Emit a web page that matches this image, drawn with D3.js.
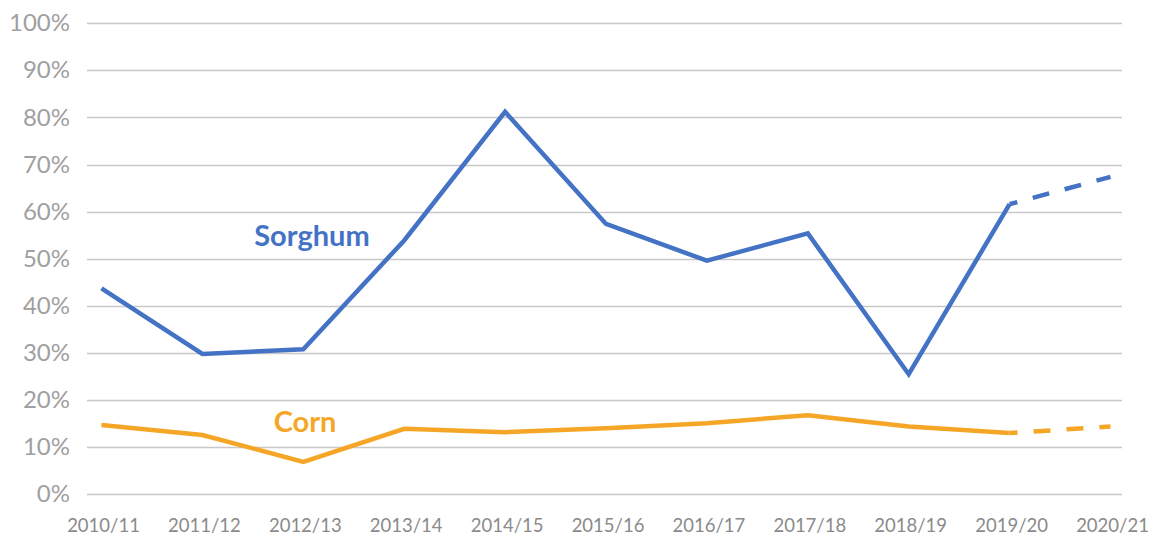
<!DOCTYPE html>
<html>
<head>
<meta charset="utf-8">
<script src="https://cdn.jsdelivr.net/npm/d3@7"></script>
<style>
  body { margin: 0; background: #fff; }
  text { font-family: Lato, "Open Sans", sans-serif; }
</style>
</head>
<body>
<script>
const years = ['2010/11', '2011/12', '2012/13', '2013/14', '2014/15', '2015/16',
    '2016/17', '2017/18', '2018/19', '2019/20', '2020/21']
const sorghum = [43.7, 29.8, 30.8, 53.9, 81.2, 57.4, 49.6, 55.4, 25.5, 61.6, 67.4]
const corn = [14.7, 12.6, 6.9, 13.9, 13.2, 14.0, 15.1, 16.8, 14.4, 13.0, 14.4]
const yTicks = [0, 10, 20, 30, 40, 50, 60, 70, 80, 90, 100]
// last point is a forecast, drawn dashed
const forecastFrom = 9

let width = 1150, height = 540

let svg = d3.select("body").append("svg")
    .attr("width", width)
    .attr("height", height)

let x = d3.scalePoint().domain(years).range([101.5, 1110.5])
let y = d3.scaleLinear().domain([0, 100]).range([494.3, 23.3])

// gridlines
svg.append("g")
    .selectAll('line')
    .data(yTicks).enter()
    .append('line')
    .attr("x1", 87)
    .attr("x2", 1122)
    .attr("y1", d => Math.round(y(d)) + 0.5)
    .attr("y2", d => Math.round(y(d)) + 0.5)
    .attr("stroke", "#c8c8c8")
    .attr("stroke-width", 1.3)

// y labels
svg.append("g")
    .selectAll('text')
    .data(yTicks).enter()
    .append('text')
    .attr('text-anchor', 'end')
    .attr('x', 70)
    .attr('y', d => y(d) + 8)
    .attr('fill', '#a0a0a0')
    .style('font-size', '24px')
    .text(d => d + '%')

// x labels
svg.append("g")
    .selectAll('text')
    .data(years).enter()
    .append('text')
    .attr('text-anchor', 'middle')
    .attr('x', d => x(d) + 2)
    .attr('y', 532)
    .attr('fill', '#8a8a8a')
    .style('font-size', '18.5px')
    .text(d => d)

const line = d3.line()
    .x(d => x(d.year))
    .y(d => y(d.value))

const series = [
    { name: 'Sorghum', values: sorghum, color: '#4472c4', lx: 312, ly: 246 },
    { name: 'Corn', values: corn, color: '#f6a626', lx: 305, ly: 432 }
]

series.map(s => {
    const pts = s.values.map((v, i) => ({ year: years[i], value: v }))
    svg.append('path')
        .attr("d", line(pts.slice(0, forecastFrom + 1)))
        .attr("fill", "none")
        .attr("stroke", s.color)
        .attr("stroke-width", 4.5)
    svg.append('path')
        .attr("d", line(pts.slice(forecastFrom)))
        .attr("fill", "none")
        .attr("stroke", s.color)
        .attr("stroke-width", 4.5)
        .attr("stroke-dasharray", "17,16")
        .attr("stroke-dashoffset", 9)
    svg.append('text')
        .attr('text-anchor', 'middle')
        .attr('x', s.lx)
        .attr('y', s.ly)
        .attr('fill', s.color)
        .style('font-size', '29px')
        .style('font-weight', 'bold')
        .text(s.name)
})
</script>
</body>
</html>
